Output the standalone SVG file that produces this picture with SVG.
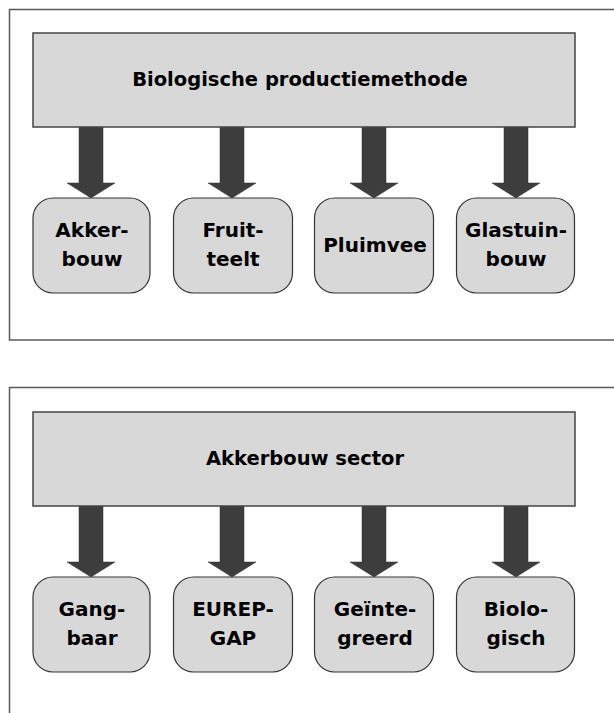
<svg xmlns="http://www.w3.org/2000/svg" width="614" height="713" viewBox="0 0 614 713">
<defs>
<style>
.frame{fill:none;stroke:#5a5a5a;stroke-width:1.5}
.header{fill:#d8d8d8;stroke:#444;stroke-width:1.5}
.node{fill:#d8d8d8;stroke:#333;stroke-width:1.2}
.arrow{fill:#3d3d3d;stroke:#333;stroke-width:0.5}
.ht{font-family:"DejaVu Sans","Liberation Sans",Arial,sans-serif;font-weight:bold;font-size:19.5px;fill:#000;text-anchor:middle}
.nt{font-family:"DejaVu Sans","Liberation Sans",Arial,sans-serif;font-weight:bold;font-size:20px;fill:#000;text-anchor:middle}
</style>
<path id="arr" d="M-12,0 H12 V56 H24 L0,71 L-24,56 H-12 Z"/>
</defs>
<rect width="614" height="713" fill="#fff"/>
<rect class="frame" x="9.5" y="9.5" width="620" height="330.5"/>
<rect class="frame" x="9.5" y="387.5" width="620" height="400"/>

<g id="connectors">
<use href="#arr" class="arrow" x="91" y="127"/>
<use href="#arr" class="arrow" x="232" y="127"/>
<use href="#arr" class="arrow" x="374" y="127"/>
<use href="#arr" class="arrow" x="516" y="127"/>
<use href="#arr" class="arrow" x="91" y="506"/>
<use href="#arr" class="arrow" x="232" y="506"/>
<use href="#arr" class="arrow" x="374" y="506"/>
<use href="#arr" class="arrow" x="516" y="506"/>
</g>

<g id="header1">
<rect class="header" x="33" y="33" width="542" height="94"/>
<text class="ht" x="300" y="86">Biologische productiemethode</text>
</g>
<g id="akkerbouw">
<rect class="node" x="33" y="198" width="117" height="95" rx="20" ry="20"/>
<text class="nt" x="92" y="237">Akker-</text>
<text class="nt" x="92" y="265.5">bouw</text>
</g>
<g id="fruitteelt">
<rect class="node" x="173.5" y="198" width="119" height="95" rx="20" ry="20"/>
<text class="nt" x="233" y="237">Fruit-</text>
<text class="nt" x="233" y="265.5">teelt</text>
</g>
<g id="pluimvee">
<rect class="node" x="314.5" y="198" width="119" height="95" rx="20" ry="20"/>
<text class="nt" x="375" y="252">Pluimvee</text>
</g>
<g id="glastuinbouw">
<rect class="node" x="456.5" y="198" width="118" height="95" rx="20" ry="20"/>
<text class="nt" x="516" y="237">Glastuin-</text>
<text class="nt" x="516" y="265.5">bouw</text>
</g>

<g id="header2">
<rect class="header" x="33" y="412" width="542" height="94"/>
<text class="ht" x="305" y="465">Akkerbouw sector</text>
</g>
<g id="gangbaar">
<rect class="node" x="33" y="577" width="117" height="95" rx="20" ry="20"/>
<text class="nt" x="92" y="616">Gang-</text>
<text class="nt" x="92" y="644.5">baar</text>
</g>
<g id="eurepgap">
<rect class="node" x="173.5" y="577" width="119" height="95" rx="20" ry="20"/>
<text class="nt" x="233" y="616">EUREP-</text>
<text class="nt" x="233" y="644.5">GAP</text>
</g>
<g id="geintegreerd">
<rect class="node" x="314.5" y="577" width="119" height="95" rx="20" ry="20"/>
<text class="nt" x="375" y="616">Geïnte-</text>
<text class="nt" x="375" y="644.5">greerd</text>
</g>
<g id="biologisch">
<rect class="node" x="456.5" y="577" width="118" height="95" rx="20" ry="20"/>
<text class="nt" x="516" y="616">Biolo-</text>
<text class="nt" x="516" y="644.5">gisch</text>
</g>
</svg>
